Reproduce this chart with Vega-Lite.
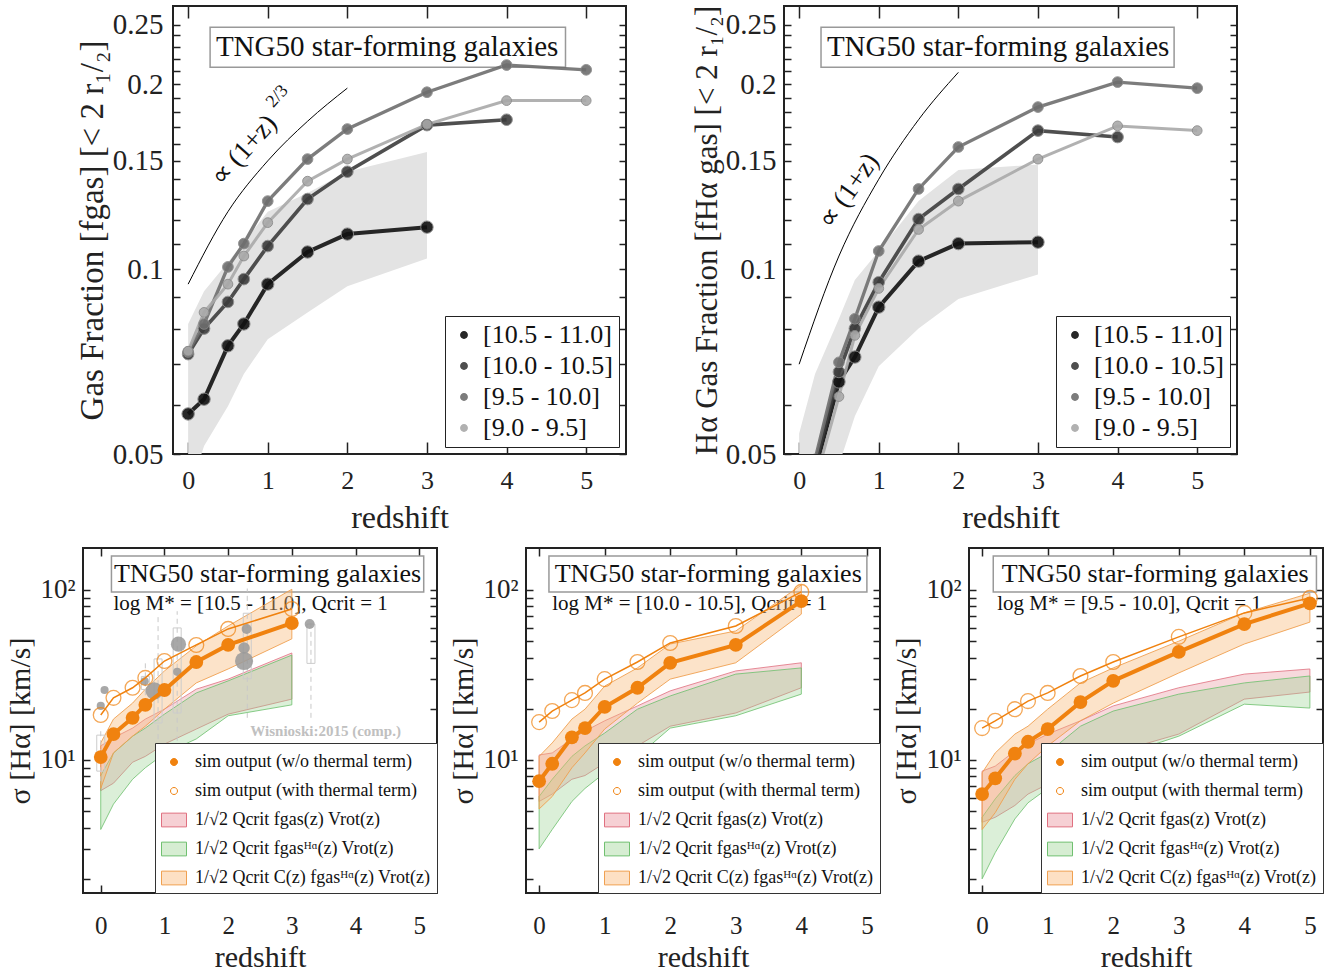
{
"$schema": "https://vega.github.io/schema/vega-lite/v6.json",
"padding": {"left": -10, "top": 4, "right": 2, "bottom": 0},
"background": "white",
"config": {
  "font": "Liberation Serif",
  "view": {"stroke": "#222", "strokeWidth": 2},
  "axis": {"domain": false, "grid": false, "labelFont": "Liberation Serif", "titleFont": "Liberation Serif", "labelColor": "#222", "titleColor": "#222", "titleFontWeight": "normal", "tickColor": "#222", "tickWidth": 1.5, "labelOverlap": false, "labelFlush": false},
  "legend": {"labelFont": "Liberation Serif", "titleFont": "Liberation Serif"},
  "text": {"font": "Liberation Serif"}
},
"datasets": {
  "fg": [
    {"bin":"[10.5 - 11.0]","z":0,"f":0.0581},{"bin":"[10.5 - 11.0]","z":0.2,"f":0.0614},{"bin":"[10.5 - 11.0]","z":0.5,"f":0.075},{"bin":"[10.5 - 11.0]","z":0.7,"f":0.0814},{"bin":"[10.5 - 11.0]","z":1,"f":0.0945},{"bin":"[10.5 - 11.0]","z":1.5,"f":0.1066},{"bin":"[10.5 - 11.0]","z":2,"f":0.114},{"bin":"[10.5 - 11.0]","z":3,"f":0.117},
    {"bin":"[10.0 - 10.5]","z":0,"f":0.0727},{"bin":"[10.0 - 10.5]","z":0.2,"f":0.080},{"bin":"[10.0 - 10.5]","z":0.5,"f":0.0884},{"bin":"[10.0 - 10.5]","z":0.7,"f":0.0963},{"bin":"[10.0 - 10.5]","z":1,"f":0.109},{"bin":"[10.0 - 10.5]","z":1.5,"f":0.130},{"bin":"[10.0 - 10.5]","z":2,"f":0.144},{"bin":"[10.0 - 10.5]","z":3,"f":0.1715},{"bin":"[10.0 - 10.5]","z":4,"f":0.175},
    {"bin":"[9.5 - 10.0]","z":0,"f":0.0733},{"bin":"[9.5 - 10.0]","z":0.2,"f":0.0814},{"bin":"[9.5 - 10.0]","z":0.5,"f":0.1008},{"bin":"[9.5 - 10.0]","z":0.7,"f":0.110},{"bin":"[9.5 - 10.0]","z":1,"f":0.129},{"bin":"[9.5 - 10.0]","z":1.5,"f":0.151},{"bin":"[9.5 - 10.0]","z":2,"f":0.169},{"bin":"[9.5 - 10.0]","z":3,"f":0.194},{"bin":"[9.5 - 10.0]","z":4,"f":0.2148},{"bin":"[9.5 - 10.0]","z":5,"f":0.211},
    {"bin":"[9.0 - 9.5]","z":0,"f":0.0735},{"bin":"[9.0 - 9.5]","z":0.2,"f":0.085},{"bin":"[9.0 - 9.5]","z":0.5,"f":0.0945},{"bin":"[9.0 - 9.5]","z":0.7,"f":0.105},{"bin":"[9.0 - 9.5]","z":1,"f":0.119},{"bin":"[9.0 - 9.5]","z":1.5,"f":0.139},{"bin":"[9.0 - 9.5]","z":2,"f":0.151},{"bin":"[9.0 - 9.5]","z":3,"f":0.172},{"bin":"[9.0 - 9.5]","z":4,"f":0.188},{"bin":"[9.0 - 9.5]","z":5,"f":0.188}
  ],
  "fh": [
    {"bin":"[10.5 - 11.0]","z":0,"f":0.036},{"bin":"[10.5 - 11.0]","z":0.2,"f":0.047},{"bin":"[10.5 - 11.0]","z":0.5,"f":0.0655},{"bin":"[10.5 - 11.0]","z":0.7,"f":0.0719},{"bin":"[10.5 - 11.0]","z":1,"f":0.0867},{"bin":"[10.5 - 11.0]","z":1.5,"f":0.103},{"bin":"[10.5 - 11.0]","z":2,"f":0.110},{"bin":"[10.5 - 11.0]","z":3,"f":0.1106},
    {"bin":"[10.0 - 10.5]","z":0,"f":0.036},{"bin":"[10.0 - 10.5]","z":0.2,"f":0.048},{"bin":"[10.0 - 10.5]","z":0.5,"f":0.068},{"bin":"[10.0 - 10.5]","z":0.7,"f":0.080},{"bin":"[10.0 - 10.5]","z":1,"f":0.0952},{"bin":"[10.0 - 10.5]","z":1.5,"f":0.1206},{"bin":"[10.0 - 10.5]","z":2,"f":0.135},{"bin":"[10.0 - 10.5]","z":3,"f":0.168},{"bin":"[10.0 - 10.5]","z":4,"f":0.164},
    {"bin":"[9.5 - 10.0]","z":0,"f":0.037},{"bin":"[9.5 - 10.0]","z":0.2,"f":0.049},{"bin":"[9.5 - 10.0]","z":0.5,"f":0.0705},{"bin":"[9.5 - 10.0]","z":0.7,"f":0.083},{"bin":"[9.5 - 10.0]","z":1,"f":0.107},{"bin":"[9.5 - 10.0]","z":1.5,"f":0.135},{"bin":"[9.5 - 10.0]","z":2,"f":0.158},{"bin":"[9.5 - 10.0]","z":3,"f":0.1835},{"bin":"[9.5 - 10.0]","z":4,"f":0.2015},{"bin":"[9.5 - 10.0]","z":5,"f":0.197},
    {"bin":"[9.0 - 9.5]","z":0,"f":0.034},{"bin":"[9.0 - 9.5]","z":0.2,"f":0.045},{"bin":"[9.0 - 9.5]","z":0.5,"f":0.062},{"bin":"[9.0 - 9.5]","z":0.7,"f":0.078},{"bin":"[9.0 - 9.5]","z":1,"f":0.093},{"bin":"[9.0 - 9.5]","z":1.5,"f":0.116},{"bin":"[9.0 - 9.5]","z":2,"f":0.129},{"bin":"[9.0 - 9.5]","z":3,"f":0.151},{"bin":"[9.0 - 9.5]","z":4,"f":0.171},{"bin":"[9.0 - 9.5]","z":5,"f":0.168}
  ],
  "bandL": [
    {"z":0,"f2":0.043,"f":0.0814},{"z":0.2,"f2":0.0515,"f":0.092},{"z":0.5,"f2":0.0598,"f":0.1026},{"z":0.7,"f2":0.0675,"f":0.1106},{"z":1,"f2":0.0769,"f":0.124},{"z":1.5,"f2":0.085,"f":0.133},{"z":2,"f2":0.0938,"f":0.144},{"z":3,"f2":0.104,"f":0.155}
  ],
  "bandR": [
    {"z":0,"f2":0.03,"f":0.054},{"z":0.2,"f2":0.038,"f":0.0675},{"z":0.5,"f2":0.048,"f":0.083},{"z":0.7,"f2":0.0576,"f":0.096},{"z":1,"f2":0.0695,"f":0.107},{"z":1.5,"f2":0.080,"f":0.129},{"z":2,"f2":0.0894,"f":0.145},{"z":3,"f2":0.098,"f":0.148}
  ],
  "curveL": [{"z":0,"f":0.0945},{"z":0.5,"f":0.124},{"z":1,"f":0.150},{"z":1.5,"f":0.174},{"z":2,"f":0.197}],
  "curveR": [{"z":0,"f":0.070},{"z":0.5,"f":0.105},{"z":1,"f":0.140},{"z":1.5,"f":0.175},{"z":2,"f":0.209}],
  "sig": [
    {"p":1,"t":"a","z":0,"s":10.4},{"p":1,"t":"a","z":0.2,"s":14.2},{"p":1,"t":"a","z":0.5,"s":17.7},{"p":1,"t":"a","z":0.7,"s":21.1},{"p":1,"t":"a","z":1,"s":25.8},{"p":1,"t":"a","z":1.5,"s":37.7},{"p":1,"t":"a","z":2,"s":47.5},{"p":1,"t":"a","z":3,"s":63.9},
    {"p":1,"t":"b","z":0,"s":18.4},{"p":1,"t":"b","z":0.2,"s":23.2},{"p":1,"t":"b","z":0.5,"s":26.6},{"p":1,"t":"b","z":0.7,"s":30.4},{"p":1,"t":"b","z":1,"s":38.2},{"p":1,"t":"b","z":1.5,"s":47.5},{"p":1,"t":"b","z":2,"s":59},{"p":1,"t":"b","z":3,"s":77.3},
    {"p":2,"t":"a","z":0,"s":7.5},{"p":2,"t":"a","z":0.2,"s":9.5},{"p":2,"t":"a","z":0.5,"s":13.6},{"p":2,"t":"a","z":0.7,"s":15.4},{"p":2,"t":"a","z":1,"s":20.5},{"p":2,"t":"a","z":1.5,"s":26.6},{"p":2,"t":"a","z":2,"s":37.3},{"p":2,"t":"a","z":3,"s":47.5},{"p":2,"t":"a","z":4,"s":86},
    {"p":2,"t":"b","z":0,"s":16.7},{"p":2,"t":"b","z":0.2,"s":19.4},{"p":2,"t":"b","z":0.5,"s":22.5},{"p":2,"t":"b","z":0.7,"s":24.8},{"p":2,"t":"b","z":1,"s":29.9},{"p":2,"t":"b","z":1.5,"s":37.7},{"p":2,"t":"b","z":2,"s":48.8},{"p":2,"t":"b","z":3,"s":61.4},{"p":2,"t":"b","z":4,"s":97.4},
    {"p":3,"t":"a","z":0,"s":6.3},{"p":3,"t":"a","z":0.2,"s":7.8},{"p":3,"t":"a","z":0.5,"s":10.9},{"p":3,"t":"a","z":0.7,"s":12.8},{"p":3,"t":"a","z":1,"s":15.2},{"p":3,"t":"a","z":1.5,"s":21.9},{"p":3,"t":"a","z":2,"s":29.2},{"p":3,"t":"a","z":3,"s":43.2},{"p":3,"t":"a","z":4,"s":63},{"p":3,"t":"a","z":5,"s":83.5},
    {"p":3,"t":"b","z":0,"s":15.4},{"p":3,"t":"b","z":0.2,"s":17},{"p":3,"t":"b","z":0.5,"s":19.9},{"p":3,"t":"b","z":0.7,"s":22.2},{"p":3,"t":"b","z":1,"s":24.8},{"p":3,"t":"b","z":1.5,"s":31.2},{"p":3,"t":"b","z":2,"s":37.7},{"p":3,"t":"b","z":3,"s":53},{"p":3,"t":"b","z":4,"s":73.3},{"p":3,"t":"b","z":5,"s":89.8}
  ],
  "bands": [
    {"p":1,"t":"c","z":0,"s2":6.6,"s":12.1},{"p":1,"t":"c","z":0.2,"s2":7.3,"s":13.5},{"p":1,"t":"c","z":0.5,"s2":9.7,"s":15.4},{"p":1,"t":"c","z":0.7,"s2":10.5,"s":17.4},{"p":1,"t":"c","z":1,"s2":12.4,"s":19.9},{"p":1,"t":"c","z":1.5,"s2":15.2,"s":26.1},{"p":1,"t":"c","z":2,"s2":18.6,"s":29.9},{"p":1,"t":"c","z":3,"s2":22.8,"s":42.6},
    {"p":1,"t":"d","z":0,"s2":3.9,"s":8.1},{"p":1,"t":"d","z":0.2,"s2":5.5,"s":11.0},{"p":1,"t":"d","z":0.5,"s2":7.7,"s":13.8},{"p":1,"t":"d","z":0.7,"s2":9.0,"s":15.4},{"p":1,"t":"d","z":1,"s2":10.9,"s":18.6},{"p":1,"t":"d","z":1.5,"s2":13.3,"s":24.8},{"p":1,"t":"d","z":2,"s2":18.2,"s":29.2},{"p":1,"t":"d","z":3,"s2":21.1,"s":41.4},
    {"p":1,"t":"e","z":0,"s2":6.8,"s":12.6},{"p":1,"t":"e","z":0.2,"s2":11,"s":17.4},{"p":1,"t":"e","z":0.5,"s2":13.8,"s":21.6},{"p":1,"t":"e","z":0.7,"s2":15.8,"s":26.1},{"p":1,"t":"e","z":1,"s2":19.9,"s":33.4},{"p":1,"t":"e","z":1.5,"s2":28.4,"s":46.9},{"p":1,"t":"e","z":2,"s2":34.3,"s":61.4},{"p":1,"t":"e","z":3,"s2":51.6,"s":101},
    {"p":2,"t":"c","z":0,"s2":5.7,"s":10.7},{"p":2,"t":"c","z":0.2,"s2":6.3,"s":11},{"p":2,"t":"c","z":0.5,"s2":7.7,"s":13.3},{"p":2,"t":"c","z":0.7,"s2":8.1,"s":14.8},{"p":2,"t":"c","z":1,"s2":9.6,"s":17},{"p":2,"t":"c","z":1.5,"s2":12.1,"s":20.8},{"p":2,"t":"c","z":2,"s2":15.8,"s":25.5},{"p":2,"t":"c","z":3,"s2":18.9,"s":33.4},{"p":2,"t":"c","z":4,"s2":26.6,"s":37.3},
    {"p":2,"t":"d","z":0,"s2":3.0,"s":6.1},{"p":2,"t":"d","z":0.2,"s2":3.9,"s":7.7},{"p":2,"t":"d","z":0.5,"s2":5.7,"s":10.5},{"p":2,"t":"d","z":0.7,"s2":6.8,"s":12.1},{"p":2,"t":"d","z":1,"s2":8.4,"s":14.4},{"p":2,"t":"d","z":1.5,"s2":10.5,"s":19.9},{"p":2,"t":"d","z":2,"s2":15.4,"s":23.8},{"p":2,"t":"d","z":3,"s2":18.2,"s":32},{"p":2,"t":"d","z":4,"s2":24.4,"s":34.8},
    {"p":2,"t":"e","z":0,"s2":5.15,"s":10.5},{"p":2,"t":"e","z":0.2,"s2":6.1,"s":12.6},{"p":2,"t":"e","z":0.5,"s2":9.0,"s":17.4},{"p":2,"t":"e","z":0.7,"s2":11,"s":19.9},{"p":2,"t":"e","z":1,"s2":15.2,"s":27.2},{"p":2,"t":"e","z":1.5,"s2":21.6,"s":34.8},{"p":2,"t":"e","z":2,"s2":29.9,"s":48.1},{"p":2,"t":"e","z":3,"s2":37.3,"s":57.4},{"p":2,"t":"e","z":4,"s2":72.1,"s":107},
    {"p":3,"t":"c","z":0,"s2":4.3,"s":8.6},{"p":3,"t":"c","z":0.2,"s2":4.6,"s":9.2},{"p":3,"t":"c","z":0.5,"s2":5.4,"s":11.3},{"p":3,"t":"c","z":0.7,"s2":6.3,"s":12.4},{"p":3,"t":"c","z":1,"s2":7.2,"s":14.2},{"p":3,"t":"c","z":1.5,"s2":9.2,"s":17},{"p":3,"t":"c","z":2,"s2":11,"s":20.8},{"p":3,"t":"c","z":3,"s2":14.2,"s":26.6},{"p":3,"t":"c","z":4,"s2":22.8,"s":32},{"p":3,"t":"c","z":5,"s2":25.1,"s":34.3},
    {"p":3,"t":"d","z":0,"s2":2.0,"s":4.6},{"p":3,"t":"d","z":0.2,"s2":2.85,"s":5.9},{"p":3,"t":"d","z":0.5,"s2":4.5,"s":8.1},{"p":3,"t":"d","z":0.7,"s2":5.6,"s":9.5},{"p":3,"t":"d","z":1,"s2":6.8,"s":11},{"p":3,"t":"d","z":1.5,"s2":9.0,"s":15.8},{"p":3,"t":"d","z":2,"s2":10.3,"s":19.4},{"p":3,"t":"d","z":3,"s2":13.8,"s":24.4},{"p":3,"t":"d","z":4,"s2":21.3,"s":28.4},{"p":3,"t":"d","z":5,"s2":20.2,"s":31.2},
    {"p":3,"t":"e","z":0,"s2":3.9,"s":8.4},{"p":3,"t":"e","z":0.2,"s2":4.9,"s":11},{"p":3,"t":"e","z":0.5,"s2":7.7,"s":14.2},{"p":3,"t":"e","z":0.7,"s2":9.5,"s":15.8},{"p":3,"t":"e","z":1,"s2":12.1,"s":19.9},{"p":3,"t":"e","z":1.5,"s2":17,"s":28.4},{"p":3,"t":"e","z":2,"s2":21.6,"s":34.8},{"p":3,"t":"e","z":3,"s2":32.5,"s":50},{"p":3,"t":"e","z":4,"s2":48.1,"s":73.3},{"p":3,"t":"e","z":5,"s2":64.7,"s":95.7}
  ],
  "wis": [
    {"z":0.06,"s":25.8,"n":2},{"z":0.0,"s":20.8,"n":2},{"z":0.69,"s":29,"n":2},{"z":0.84,"s":25.5,"n":9},{"z":1.22,"s":48,"n":7},{"z":1.2,"s":33,"n":2},{"z":2.29,"s":59,"n":3},{"z":2.25,"s":45.6,"n":4},{"z":2.25,"s":38.2,"n":10},{"z":3.28,"s":63,"n":3}
  ],
  "wbox": [
    {"z":0.0,"lo":7.5,"q1":8.6,"q3":14,"hi":15.5},{"z":0.7,"lo":24,"q1":26,"q3":31,"hi":39},{"z":0.9,"lo":9.2,"q1":16.5,"q3":39.3,"hi":73},{"z":1.2,"lo":9,"q1":18.9,"q3":59.8,"hi":75},{"z":2.3,"lo":17.7,"q1":30,"q3":73,"hi":102},{"z":3.3,"lo":17.7,"q1":37,"q3":63,"hi":65}
  ]
},
"vconcat": [
  {
    "spacing": 62,
    "resolve": {"scale": {"color": "independent", "size": "independent", "strokeWidth": "independent"}},
    "hconcat": [
      {"width": 19, "height": 448, "view": {"stroke": "white", "fill": "white"}, "data": {"values": [{}]}, "mark": {"type": "point", "opacity": 0}},
      {
        "width": 453, "height": 448,
        "resolve": {"axis": {"x": "independent", "y": "independent"}},
        "layer": [
          {"data": {"name": "bandL"}, "mark": {"type": "area", "color": "#e3e3e3", "clip": true},
           "encoding": {
             "x": {"field": "z", "type": "quantitative", "scale": {"domain": [-0.19, 5.5], "nice": false, "zero": false},
                   "axis": {"title": "redshift", "values": [0,1,2,3,4,5], "format": "d", "tickSize": -12, "labelFontSize": 26, "titleFontSize": 32, "labelPadding": 25, "titlePadding": 9}},
             "y": {"field": "f", "type": "quantitative", "scale": {"type": "log", "domain": [0.05, 0.268], "nice": false},
                   "axis": {"title": "Gas Fraction [fgas] [< 2 r₁/₂]", "values": [0.05,0.06,0.07,0.08,0.09,0.1,0.11,0.12,0.13,0.14,0.15,0.16,0.17,0.18,0.19,0.2,0.21,0.22,0.23,0.24,0.25],
                            "labelExpr": "indexof([0.05,0.1,0.15,0.2,0.25], datum.value) >= 0 ? format(datum.value, '.2~f') : ''", "tickSize": -7, "labelFontSize": 29, "titleFontSize": 33, "labelPadding": 17, "titlePadding": 3}},
             "y2": {"field": "f2"}}},
          {"data": {"values": [{}]}, "mark": {"type": "point", "opacity": 0},
           "encoding": {"x": {"datum": 1, "axis": {"orient": "top", "values": [0,1,2,3,4,5], "labels": false, "title": null, "tickSize": -12}},
                        "y": {"datum": 0.1, "axis": {"orient": "right", "values": [0.05,0.06,0.07,0.08,0.09,0.1,0.11,0.12,0.13,0.14,0.15,0.16,0.17,0.18,0.19,0.2,0.21,0.22,0.23,0.24,0.25], "labels": false, "title": null, "tickSize": -7}}}},
          {"data": {"name": "curveL"}, "mark": {"type": "line", "color": "#000", "strokeWidth": 1, "clip": true, "interpolate": "monotone"},
           "encoding": {"x": {"field": "z", "type": "quantitative", "axis": null}, "y": {"field": "f", "type": "quantitative", "axis": null}}},
          {"data": {"values": [{}]}, "mark": {"type": "rect", "fill": "white", "stroke": "#999", "strokeWidth": 1.5}, "encoding": {"x": {"datum": 0.276, "axis": null}, "x2": {"datum": 4.74}, "y": {"datum": 0.2131, "axis": null}, "y2": {"datum": 0.2476}}},
          {"data": {"values": [{}]}, "mark": {"type": "text", "text": "TNG50 star-forming galaxies", "fontSize": 29, "color": "#111"}, "encoding": {"x": {"datum": 2.5, "axis": null}, "y": {"datum": 0.2297, "axis": null}}},
          {"data": {"values": [{}]}, "mark": {"type": "text", "text": "∝ (1+z)", "fontSize": 27, "angle": -48, "color": "#111"}, "encoding": {"x": {"datum": 0.7, "axis": null}, "y": {"datum": 0.156, "axis": null}}},
          {"data": {"values": [{}]}, "mark": {"type": "text", "text": "2/3", "fontSize": 18, "angle": -48, "color": "#111"}, "encoding": {"x": {"datum": 1.12, "axis": null}, "y": {"datum": 0.191, "axis": null}}},
          {"data": {"name": "fg"}, "mark": {"type": "line", "clip": true, "opacity": 0.9},
           "encoding": {"x": {"field": "z", "type": "quantitative", "axis": null}, "y": {"field": "f", "type": "quantitative", "axis": null},
                        "color": {"field": "bin", "type": "nominal", "scale": {"domain": ["[10.5 - 11.0]","[10.0 - 10.5]","[9.5 - 10.0]","[9.0 - 9.5]"], "range": ["#111111","#3c3c3c","#6e6e6e","#a9a9a9"]},
                                  "legend": {"title": null, "orient": "bottom-right", "offset": 7, "strokeColor": "#222", "fillColor": "white", "padding": 6, "labelFontSize": 26, "labelColor": "#111", "symbolSize": 40, "symbolType": "circle", "rowPadding": 5, "labelOffset": 6, "labelLimit": 400}},
                        "strokeWidth": {"field": "bin", "type": "ordinal", "scale": {"domain": ["[9.0 - 9.5]","[9.5 - 10.0]","[10.0 - 10.5]","[10.5 - 11.0]"], "range": [3,4,5,7]}, "legend": null}}},
          {"data": {"name": "fg"}, "mark": {"type": "point", "filled": true, "opacity": 0.9, "stroke": "#8a8a8a", "strokeWidth": 1, "clip": true},
           "encoding": {"x": {"field": "z", "type": "quantitative", "axis": null}, "y": {"field": "f", "type": "quantitative", "axis": null},
                        "color": {"field": "bin", "type": "nominal", "scale": {"domain": ["[10.5 - 11.0]","[10.0 - 10.5]","[9.5 - 10.0]","[9.0 - 9.5]"], "range": ["#111111","#3c3c3c","#6e6e6e","#a9a9a9"]},
                                  "legend": {"title": null, "orient": "bottom-right", "offset": 7, "strokeColor": "#222", "fillColor": "white", "padding": 6, "labelFontSize": 26, "labelColor": "#111", "symbolSize": 40, "symbolType": "circle", "rowPadding": 5, "labelOffset": 6, "labelLimit": 400}},
                        "size": {"field": "bin", "type": "ordinal", "scale": {"domain": ["[9.0 - 9.5]","[9.5 - 10.0]","[10.0 - 10.5]","[10.5 - 11.0]"], "range": [95,154,227,314]}, "legend": null}}}
        ]
      },
      {
        "width": 453, "height": 448,
        "resolve": {"axis": {"x": "independent", "y": "independent"}},
        "layer": [
          {"data": {"name": "bandR"}, "mark": {"type": "area", "color": "#e3e3e3", "clip": true},
           "encoding": {
             "x": {"field": "z", "type": "quantitative", "scale": {"domain": [-0.19, 5.5], "nice": false, "zero": false},
                   "axis": {"title": "redshift", "values": [0,1,2,3,4,5], "format": "d", "tickSize": -12, "labelFontSize": 26, "titleFontSize": 32, "labelPadding": 25, "titlePadding": 9}},
             "y": {"field": "f", "type": "quantitative", "scale": {"type": "log", "domain": [0.05, 0.268], "nice": false},
                   "axis": {"title": "Hα Gas Fraction [fHα gas] [< 2 r₁/₂]", "values": [0.05,0.06,0.07,0.08,0.09,0.1,0.11,0.12,0.13,0.14,0.15,0.16,0.17,0.18,0.19,0.2,0.21,0.22,0.23,0.24,0.25],
                            "labelExpr": "indexof([0.05,0.1,0.15,0.2,0.25], datum.value) >= 0 ? format(datum.value, '.2~f') : ''", "tickSize": -7, "labelFontSize": 29, "titleFontSize": 31, "labelPadding": 15, "titlePadding": 2}},
             "y2": {"field": "f2"}}},
          {"data": {"values": [{}]}, "mark": {"type": "point", "opacity": 0},
           "encoding": {"x": {"datum": 1, "axis": {"orient": "top", "values": [0,1,2,3,4,5], "labels": false, "title": null, "tickSize": -12}},
                        "y": {"datum": 0.1, "axis": {"orient": "right", "values": [0.05,0.06,0.07,0.08,0.09,0.1,0.11,0.12,0.13,0.14,0.15,0.16,0.17,0.18,0.19,0.2,0.21,0.22,0.23,0.24,0.25], "labels": false, "title": null, "tickSize": -7}}}},
          {"data": {"name": "curveR"}, "mark": {"type": "line", "color": "#000", "strokeWidth": 1, "clip": true, "interpolate": "monotone"},
           "encoding": {"x": {"field": "z", "type": "quantitative", "axis": null}, "y": {"field": "f", "type": "quantitative", "axis": null}}},
          {"data": {"values": [{}]}, "mark": {"type": "rect", "fill": "white", "stroke": "#999", "strokeWidth": 1.5}, "encoding": {"x": {"datum": 0.275, "axis": null}, "x2": {"datum": 4.71}, "y": {"datum": 0.2131, "axis": null}, "y2": {"datum": 0.2476}}},
          {"data": {"values": [{}]}, "mark": {"type": "text", "text": "TNG50 star-forming galaxies", "fontSize": 29, "color": "#111"}, "encoding": {"x": {"datum": 2.5, "axis": null}, "y": {"datum": 0.2297, "axis": null}}},
          {"data": {"values": [{}]}, "mark": {"type": "text", "text": "∝ (1+z)", "fontSize": 27, "angle": -55, "color": "#111"}, "encoding": {"x": {"datum": 0.625, "axis": null}, "y": {"datum": 0.134, "axis": null}}},
          {"data": {"name": "fh"}, "mark": {"type": "line", "clip": true, "opacity": 0.9},
           "encoding": {"x": {"field": "z", "type": "quantitative", "axis": null}, "y": {"field": "f", "type": "quantitative", "axis": null},
                        "color": {"field": "bin", "type": "nominal", "scale": {"domain": ["[10.5 - 11.0]","[10.0 - 10.5]","[9.5 - 10.0]","[9.0 - 9.5]"], "range": ["#111111","#3c3c3c","#6e6e6e","#a9a9a9"]},
                                  "legend": {"title": null, "orient": "bottom-right", "offset": 7, "strokeColor": "#222", "fillColor": "white", "padding": 6, "labelFontSize": 26, "labelColor": "#111", "symbolSize": 40, "symbolType": "circle", "rowPadding": 5, "labelOffset": 6, "labelLimit": 400}},
                        "strokeWidth": {"field": "bin", "type": "ordinal", "scale": {"domain": ["[9.0 - 9.5]","[9.5 - 10.0]","[10.0 - 10.5]","[10.5 - 11.0]"], "range": [3,4,5,7]}, "legend": null}}},
          {"data": {"name": "fh"}, "mark": {"type": "point", "filled": true, "opacity": 0.9, "stroke": "#8a8a8a", "strokeWidth": 1, "clip": true},
           "encoding": {"x": {"field": "z", "type": "quantitative", "axis": null}, "y": {"field": "f", "type": "quantitative", "axis": null},
                        "color": {"field": "bin", "type": "nominal", "scale": {"domain": ["[10.5 - 11.0]","[10.0 - 10.5]","[9.5 - 10.0]","[9.0 - 9.5]"], "range": ["#111111","#3c3c3c","#6e6e6e","#a9a9a9"]},
                                  "legend": {"title": null, "orient": "bottom-right", "offset": 7, "strokeColor": "#222", "fillColor": "white", "padding": 6, "labelFontSize": 26, "labelColor": "#111", "symbolSize": 40, "symbolType": "circle", "rowPadding": 5, "labelOffset": 6, "labelLimit": 400}},
                        "size": {"field": "bin", "type": "ordinal", "scale": {"domain": ["[9.0 - 9.5]","[9.5 - 10.0]","[10.0 - 10.5]","[10.5 - 11.0]"], "range": [95,154,227,314]}, "legend": null}}}
        ]
      }
    ]
  },
  {
    "bounds": "flush",
    "spacing": 89,
    "resolve": {"scale": {"fill": "independent", "stroke": "independent", "shape": "independent", "size": "independent"}},
    "hconcat": [
      {"width": 1, "height": 345, "view": {"stroke": "white", "fill": "white"}, "data": {"values": [{}]}, "mark": {"type": "point", "opacity": 0}},
      {
        "width": 354, "height": 345,
        "resolve": {"axis": {"x": "independent", "y": "independent"}},
        "layer": [
          {"data": {"values": [{}]}, "mark": {"type": "rect", "fill": "white", "stroke": "#999", "strokeWidth": 1.5},
           "encoding": {
             "x": {"datum": 0.168, "scale": {"domain": [-0.2, 5.2], "nice": false, "zero": false},
                   "axis": {"title": "redshift", "values": [0,1,2,3,4,5], "format": "d", "tickSize": -8, "labelFontSize": 25, "titleFontSize": 30, "labelPadding": 28, "titlePadding": 4}},
             "x2": {"datum": 5.07},
             "y": {"datum": 97.3, "scale": {"type": "log", "domain": [1.65, 176.6], "nice": false},
                   "axis": {"title": "σ [Hα] [km/s]", "values": [2,3,4,5,6,7,8,9,10,20,30,40,50,60,70,80,90,100], "labelExpr": "datum.value == 10 ? '10¹' : datum.value == 100 ? '10²' : ''",
                            "tickSize": -7, "labelFontSize": 27, "titleFontSize": 30, "labelPadding": 15, "titlePadding": 4}},
             "y2": {"datum": 158.5}}},
          {"data": {"values": [{}]}, "mark": {"type": "point", "opacity": 0},
           "encoding": {"x": {"datum": 1, "axis": {"orient": "top", "values": [0,1,2,3,4,5], "labels": false, "title": null, "tickSize": -8}},
                        "y": {"datum": 10, "axis": {"orient": "right", "values": [2,3,4,5,6,7,8,9,10,20,30,40,50,60,70,80,90,100], "labels": false, "title": null, "tickSize": -7}}}},
          {"data": {"values": [{}]}, "mark": {"type": "text", "text": "TNG50 star-forming galaxies", "fontSize": 26, "color": "#111"}, "encoding": {"x": {"datum": 2.62, "axis": null}, "y": {"datum": 124, "axis": null}}},
          {"data": {"values": [{}]}, "mark": {"type": "text", "text": "log M* = [10.5 - 11.0], Qcrit = 1", "fontSize": 21, "align": "left", "color": "#111"}, "encoding": {"x": {"datum": 0.2, "axis": null}, "y": {"datum": 82.8, "axis": null}}},
          {"data": {"name": "bands"}, "transform": [{"filter": "datum.p == 1 && datum.t == 'c'"}], "mark": {"type": "area", "fill": "#e8919b", "fillOpacity": 0.35, "stroke": "#e07080", "strokeWidth": 1, "strokeOpacity": 0.8, "clip": true},
           "encoding": {"x": {"field": "z", "type": "quantitative", "axis": null}, "y": {"field": "s", "type": "quantitative", "axis": null}, "y2": {"field": "s2"}}},
          {"data": {"name": "bands"}, "transform": [{"filter": "datum.p == 1 && datum.t == 'd'"}], "mark": {"type": "area", "fill": "#98d08f", "fillOpacity": 0.35, "stroke": "#6cbf6c", "strokeWidth": 1, "strokeOpacity": 0.8, "clip": true},
           "encoding": {"x": {"field": "z", "type": "quantitative", "axis": null}, "y": {"field": "s", "type": "quantitative", "axis": null}, "y2": {"field": "s2"}}},
          {"data": {"name": "bands"}, "transform": [{"filter": "datum.p == 1 && datum.t == 'e'"}], "mark": {"type": "area", "fill": "#f8b878", "fillOpacity": 0.4, "stroke": "#f0a050", "strokeWidth": 1, "strokeOpacity": 0.9, "clip": true},
           "encoding": {"x": {"field": "z", "type": "quantitative", "axis": null}, "y": {"field": "s", "type": "quantitative", "axis": null}, "y2": {"field": "s2"}}},
          {"data": {"name": "wbox"}, "mark": {"type": "rule", "color": "#c8c8c8", "strokeDash": [5, 4], "strokeWidth": 1},
           "encoding": {"x": {"field": "z", "type": "quantitative", "axis": null}, "y": {"field": "lo", "type": "quantitative", "axis": null}, "y2": {"field": "hi"}}},
          {"data": {"name": "wbox"}, "mark": {"type": "bar", "fill": "transparent", "stroke": "#cccccc", "strokeWidth": 1, "size": 8},
           "encoding": {"x": {"field": "z", "type": "quantitative", "axis": null}, "y": {"field": "q1", "type": "quantitative", "axis": null}, "y2": {"field": "q3"}}},
          {"data": {"name": "wis"}, "mark": {"type": "point", "filled": true, "color": "#999999", "opacity": 0.85},
           "encoding": {"x": {"field": "z", "type": "quantitative", "axis": null}, "y": {"field": "s", "type": "quantitative", "axis": null}, "size": {"field": "n", "type": "quantitative", "scale": {"domain": [0, 10], "range": [0, 330]}, "legend": null}}},
          {"data": {"values": [{}]}, "mark": {"type": "text", "text": "Wisnioski:2015 (comp.)", "fontSize": 15, "fontWeight": "bold", "color": "#c0c0c0"}, "encoding": {"x": {"datum": 3.53, "axis": null}, "y": {"datum": 14.8, "axis": null}}},
          {"data": {"name": "sig"}, "transform": [{"filter": "datum.p == 1 && datum.t == 'b'"}], "mark": {"type": "line", "color": "#f0820f", "strokeWidth": 1.5},
           "encoding": {"x": {"field": "z", "type": "quantitative", "axis": null}, "y": {"field": "s", "type": "quantitative", "axis": null}}},
          {"data": {"name": "sig"}, "transform": [{"filter": "datum.p == 1 && datum.t == 'a'"}], "mark": {"type": "line", "color": "#f0820f", "strokeWidth": 4},
           "encoding": {"x": {"field": "z", "type": "quantitative", "axis": null}, "y": {"field": "s", "type": "quantitative", "axis": null}}},
          {"data": {"name": "sig"}, "transform": [{"filter": "datum.p == 1 && datum.t == 'a'"}], "mark": {"type": "point", "filled": true, "strokeWidth": 1, "opacity": 1},
           "encoding": {"x": {"field": "z", "type": "quantitative", "axis": null}, "y": {"field": "s", "type": "quantitative", "axis": null},
             "fill": {"field": "t", "type": "nominal", "scale": {"domain": ["a","b","c","d","e"], "range": ["#f0820f","transparent","#f6d0d4","#d6edd2","#fde0c4"]},
               "legend": {"title": null, "orient": "bottom-right", "offset": 0, "strokeColor": "#333", "fillColor": "white", "padding": 6, "labelFontSize": 18, "labelColor": "#111", "symbolSize": 625, "symbolStrokeWidth": 1, "rowPadding": 7, "labelOffset": 8, "labelLimit": 500,
                 "labelExpr": "datum.value == 'a' ? 'sim output (w/o thermal term)' : datum.value == 'b' ? 'sim output (with thermal term)' : datum.value == 'c' ? '1/√2 Qcrit fgas(z) Vrot(z)' : datum.value == 'd' ? '1/√2 Qcrit fgasᴴᵅ(z) Vrot(z)' : '1/√2 Qcrit C(z) fgasᴴᵅ(z) Vrot(z)'"}},
             "stroke": {"field": "t", "type": "nominal", "scale": {"domain": ["a","b","c","d","e"], "range": ["#f0820f","#f0820f","#e07080","#70c070","#f0a050"]},
               "legend": {"title": null, "orient": "bottom-right", "offset": 0, "strokeColor": "#333", "fillColor": "white", "padding": 6, "labelFontSize": 18, "labelColor": "#111", "symbolSize": 625, "symbolStrokeWidth": 1, "rowPadding": 7, "labelOffset": 8, "labelLimit": 500,
                 "labelExpr": "datum.value == 'a' ? 'sim output (w/o thermal term)' : datum.value == 'b' ? 'sim output (with thermal term)' : datum.value == 'c' ? '1/√2 Qcrit fgas(z) Vrot(z)' : datum.value == 'd' ? '1/√2 Qcrit fgasᴴᵅ(z) Vrot(z)' : '1/√2 Qcrit C(z) fgasᴴᵅ(z) Vrot(z)'"}},
             "shape": {"field": "t", "type": "nominal", "scale": {"domain": ["a","b","c","d","e"], "range": ["M-0.28,0a0.28,0.28 0 1,0 0.56,0a0.28,0.28 0 1,0 -0.56,0Z","M-0.28,0a0.28,0.28 0 1,0 0.56,0a0.28,0.28 0 1,0 -0.56,0Z","M-1,-0.55H1V0.55H-1Z","M-1,-0.55H1V0.55H-1Z","M-1,-0.55H1V0.55H-1Z"]},
               "legend": {"title": null, "orient": "bottom-right", "offset": 0, "strokeColor": "#333", "fillColor": "white", "padding": 6, "labelFontSize": 18, "labelColor": "#111", "symbolSize": 625, "symbolStrokeWidth": 1, "rowPadding": 7, "labelOffset": 8, "labelLimit": 500,
                 "labelExpr": "datum.value == 'a' ? 'sim output (w/o thermal term)' : datum.value == 'b' ? 'sim output (with thermal term)' : datum.value == 'c' ? '1/√2 Qcrit fgas(z) Vrot(z)' : datum.value == 'd' ? '1/√2 Qcrit fgasᴴᵅ(z) Vrot(z)' : '1/√2 Qcrit C(z) fgasᴴᵅ(z) Vrot(z)'"}}}},
          {"data": {"name": "sig"}, "transform": [{"filter": "datum.p == 1 && datum.t == 'b'"}], "mark": {"type": "point", "filled": false, "color": "#f0820f", "size": 220, "strokeWidth": 1.3},
           "encoding": {"x": {"field": "z", "type": "quantitative", "axis": null}, "y": {"field": "s", "type": "quantitative", "axis": null}}},
          {"data": {"name": "sig"}, "transform": [{"filter": "datum.p == 1 && datum.t == 'a'"}], "mark": {"type": "point", "filled": true, "color": "#f0820f", "size": 190, "opacity": 1},
           "encoding": {"x": {"field": "z", "type": "quantitative", "axis": null}, "y": {"field": "s", "type": "quantitative", "axis": null}}}
        ]
      },
      {
        "width": 354, "height": 345,
        "resolve": {"axis": {"x": "independent", "y": "independent"}},
        "layer": [
          {"data": {"values": [{}]}, "mark": {"type": "rect", "fill": "white", "stroke": "#999", "strokeWidth": 1.5},
           "encoding": {
             "x": {"datum": 0.15, "scale": {"domain": [-0.2, 5.2], "nice": false, "zero": false},
                   "axis": {"title": "redshift", "values": [0,1,2,3,4,5], "format": "d", "tickSize": -8, "labelFontSize": 25, "titleFontSize": 30, "labelPadding": 28, "titlePadding": 4}},
             "x2": {"datum": 5.0},
             "y": {"datum": 97.3, "scale": {"type": "log", "domain": [1.65, 176.6], "nice": false},
                   "axis": {"title": "σ [Hα] [km/s]", "values": [2,3,4,5,6,7,8,9,10,20,30,40,50,60,70,80,90,100], "labelExpr": "datum.value == 10 ? '10¹' : datum.value == 100 ? '10²' : ''",
                            "tickSize": -7, "labelFontSize": 27, "titleFontSize": 30, "labelPadding": 15, "titlePadding": 4}},
             "y2": {"datum": 158.5}}},
          {"data": {"values": [{}]}, "mark": {"type": "point", "opacity": 0},
           "encoding": {"x": {"datum": 1, "axis": {"orient": "top", "values": [0,1,2,3,4,5], "labels": false, "title": null, "tickSize": -8}},
                        "y": {"datum": 10, "axis": {"orient": "right", "values": [2,3,4,5,6,7,8,9,10,20,30,40,50,60,70,80,90,100], "labels": false, "title": null, "tickSize": -7}}}},
          {"data": {"values": [{}]}, "mark": {"type": "text", "text": "TNG50 star-forming galaxies", "fontSize": 26, "color": "#111"}, "encoding": {"x": {"datum": 2.58, "axis": null}, "y": {"datum": 124, "axis": null}}},
          {"data": {"values": [{}]}, "mark": {"type": "text", "text": "log M* = [10.0 - 10.5], Qcrit = 1", "fontSize": 21, "align": "left", "color": "#111"}, "encoding": {"x": {"datum": 0.2, "axis": null}, "y": {"datum": 82.8, "axis": null}}},
          {"data": {"name": "bands"}, "transform": [{"filter": "datum.p == 2 && datum.t == 'c'"}], "mark": {"type": "area", "fill": "#e8919b", "fillOpacity": 0.35, "stroke": "#e07080", "strokeWidth": 1, "strokeOpacity": 0.8, "clip": true},
           "encoding": {"x": {"field": "z", "type": "quantitative", "axis": null}, "y": {"field": "s", "type": "quantitative", "axis": null}, "y2": {"field": "s2"}}},
          {"data": {"name": "bands"}, "transform": [{"filter": "datum.p == 2 && datum.t == 'd'"}], "mark": {"type": "area", "fill": "#98d08f", "fillOpacity": 0.35, "stroke": "#6cbf6c", "strokeWidth": 1, "strokeOpacity": 0.8, "clip": true},
           "encoding": {"x": {"field": "z", "type": "quantitative", "axis": null}, "y": {"field": "s", "type": "quantitative", "axis": null}, "y2": {"field": "s2"}}},
          {"data": {"name": "bands"}, "transform": [{"filter": "datum.p == 2 && datum.t == 'e'"}], "mark": {"type": "area", "fill": "#f8b878", "fillOpacity": 0.4, "stroke": "#f0a050", "strokeWidth": 1, "strokeOpacity": 0.9, "clip": true},
           "encoding": {"x": {"field": "z", "type": "quantitative", "axis": null}, "y": {"field": "s", "type": "quantitative", "axis": null}, "y2": {"field": "s2"}}},
          {"data": {"name": "sig"}, "transform": [{"filter": "datum.p == 2 && datum.t == 'b'"}], "mark": {"type": "line", "color": "#f0820f", "strokeWidth": 1.5},
           "encoding": {"x": {"field": "z", "type": "quantitative", "axis": null}, "y": {"field": "s", "type": "quantitative", "axis": null}}},
          {"data": {"name": "sig"}, "transform": [{"filter": "datum.p == 2 && datum.t == 'a'"}], "mark": {"type": "line", "color": "#f0820f", "strokeWidth": 4},
           "encoding": {"x": {"field": "z", "type": "quantitative", "axis": null}, "y": {"field": "s", "type": "quantitative", "axis": null}}},
          {"data": {"name": "sig"}, "transform": [{"filter": "datum.p == 2 && datum.t == 'a'"}], "mark": {"type": "point", "filled": true, "strokeWidth": 1, "opacity": 1},
           "encoding": {"x": {"field": "z", "type": "quantitative", "axis": null}, "y": {"field": "s", "type": "quantitative", "axis": null},
             "fill": {"field": "t", "type": "nominal", "scale": {"domain": ["a","b","c","d","e"], "range": ["#f0820f","transparent","#f6d0d4","#d6edd2","#fde0c4"]},
               "legend": {"title": null, "orient": "bottom-right", "offset": 0, "strokeColor": "#333", "fillColor": "white", "padding": 6, "labelFontSize": 18, "labelColor": "#111", "symbolSize": 625, "symbolStrokeWidth": 1, "rowPadding": 7, "labelOffset": 8, "labelLimit": 500,
                 "labelExpr": "datum.value == 'a' ? 'sim output (w/o thermal term)' : datum.value == 'b' ? 'sim output (with thermal term)' : datum.value == 'c' ? '1/√2 Qcrit fgas(z) Vrot(z)' : datum.value == 'd' ? '1/√2 Qcrit fgasᴴᵅ(z) Vrot(z)' : '1/√2 Qcrit C(z) fgasᴴᵅ(z) Vrot(z)'"}},
             "stroke": {"field": "t", "type": "nominal", "scale": {"domain": ["a","b","c","d","e"], "range": ["#f0820f","#f0820f","#e07080","#70c070","#f0a050"]},
               "legend": {"title": null, "orient": "bottom-right", "offset": 0, "strokeColor": "#333", "fillColor": "white", "padding": 6, "labelFontSize": 18, "labelColor": "#111", "symbolSize": 625, "symbolStrokeWidth": 1, "rowPadding": 7, "labelOffset": 8, "labelLimit": 500,
                 "labelExpr": "datum.value == 'a' ? 'sim output (w/o thermal term)' : datum.value == 'b' ? 'sim output (with thermal term)' : datum.value == 'c' ? '1/√2 Qcrit fgas(z) Vrot(z)' : datum.value == 'd' ? '1/√2 Qcrit fgasᴴᵅ(z) Vrot(z)' : '1/√2 Qcrit C(z) fgasᴴᵅ(z) Vrot(z)'"}},
             "shape": {"field": "t", "type": "nominal", "scale": {"domain": ["a","b","c","d","e"], "range": ["M-0.28,0a0.28,0.28 0 1,0 0.56,0a0.28,0.28 0 1,0 -0.56,0Z","M-0.28,0a0.28,0.28 0 1,0 0.56,0a0.28,0.28 0 1,0 -0.56,0Z","M-1,-0.55H1V0.55H-1Z","M-1,-0.55H1V0.55H-1Z","M-1,-0.55H1V0.55H-1Z"]},
               "legend": {"title": null, "orient": "bottom-right", "offset": 0, "strokeColor": "#333", "fillColor": "white", "padding": 6, "labelFontSize": 18, "labelColor": "#111", "symbolSize": 625, "symbolStrokeWidth": 1, "rowPadding": 7, "labelOffset": 8, "labelLimit": 500,
                 "labelExpr": "datum.value == 'a' ? 'sim output (w/o thermal term)' : datum.value == 'b' ? 'sim output (with thermal term)' : datum.value == 'c' ? '1/√2 Qcrit fgas(z) Vrot(z)' : datum.value == 'd' ? '1/√2 Qcrit fgasᴴᵅ(z) Vrot(z)' : '1/√2 Qcrit C(z) fgasᴴᵅ(z) Vrot(z)'"}}}},
          {"data": {"name": "sig"}, "transform": [{"filter": "datum.p == 2 && datum.t == 'b'"}], "mark": {"type": "point", "filled": false, "color": "#f0820f", "size": 220, "strokeWidth": 1.3},
           "encoding": {"x": {"field": "z", "type": "quantitative", "axis": null}, "y": {"field": "s", "type": "quantitative", "axis": null}}},
          {"data": {"name": "sig"}, "transform": [{"filter": "datum.p == 2 && datum.t == 'a'"}], "mark": {"type": "point", "filled": true, "color": "#f0820f", "size": 190, "opacity": 1},
           "encoding": {"x": {"field": "z", "type": "quantitative", "axis": null}, "y": {"field": "s", "type": "quantitative", "axis": null}}}
        ]
      },
      {
        "width": 354, "height": 345,
        "resolve": {"axis": {"x": "independent", "y": "independent"}},
        "layer": [
          {"data": {"values": [{}]}, "mark": {"type": "rect", "fill": "white", "stroke": "#999", "strokeWidth": 1.5},
           "encoding": {
             "x": {"datum": 0.17, "scale": {"domain": [-0.2, 5.2], "nice": false, "zero": false},
                   "axis": {"title": "redshift", "values": [0,1,2,3,4,5], "format": "d", "tickSize": -8, "labelFontSize": 25, "titleFontSize": 30, "labelPadding": 28, "titlePadding": 4}},
             "x2": {"datum": 5.1},
             "y": {"datum": 97.3, "scale": {"type": "log", "domain": [1.65, 176.6], "nice": false},
                   "axis": {"title": "σ [Hα] [km/s]", "values": [2,3,4,5,6,7,8,9,10,20,30,40,50,60,70,80,90,100], "labelExpr": "datum.value == 10 ? '10¹' : datum.value == 100 ? '10²' : ''",
                            "tickSize": -7, "labelFontSize": 27, "titleFontSize": 30, "labelPadding": 15, "titlePadding": 4}},
             "y2": {"datum": 158.5}}},
          {"data": {"values": [{}]}, "mark": {"type": "point", "opacity": 0},
           "encoding": {"x": {"datum": 1, "axis": {"orient": "top", "values": [0,1,2,3,4,5], "labels": false, "title": null, "tickSize": -8}},
                        "y": {"datum": 10, "axis": {"orient": "right", "values": [2,3,4,5,6,7,8,9,10,20,30,40,50,60,70,80,90,100], "labels": false, "title": null, "tickSize": -7}}}},
          {"data": {"values": [{}]}, "mark": {"type": "text", "text": "TNG50 star-forming galaxies", "fontSize": 26, "color": "#111"}, "encoding": {"x": {"datum": 2.64, "axis": null}, "y": {"datum": 124, "axis": null}}},
          {"data": {"values": [{}]}, "mark": {"type": "text", "text": "log M* = [9.5 - 10.0], Qcrit = 1", "fontSize": 21, "align": "left", "color": "#111"}, "encoding": {"x": {"datum": 0.23, "axis": null}, "y": {"datum": 82.8, "axis": null}}},
          {"data": {"name": "bands"}, "transform": [{"filter": "datum.p == 3 && datum.t == 'c'"}], "mark": {"type": "area", "fill": "#e8919b", "fillOpacity": 0.35, "stroke": "#e07080", "strokeWidth": 1, "strokeOpacity": 0.8, "clip": true},
           "encoding": {"x": {"field": "z", "type": "quantitative", "axis": null}, "y": {"field": "s", "type": "quantitative", "axis": null}, "y2": {"field": "s2"}}},
          {"data": {"name": "bands"}, "transform": [{"filter": "datum.p == 3 && datum.t == 'd'"}], "mark": {"type": "area", "fill": "#98d08f", "fillOpacity": 0.35, "stroke": "#6cbf6c", "strokeWidth": 1, "strokeOpacity": 0.8, "clip": true},
           "encoding": {"x": {"field": "z", "type": "quantitative", "axis": null}, "y": {"field": "s", "type": "quantitative", "axis": null}, "y2": {"field": "s2"}}},
          {"data": {"name": "bands"}, "transform": [{"filter": "datum.p == 3 && datum.t == 'e'"}], "mark": {"type": "area", "fill": "#f8b878", "fillOpacity": 0.4, "stroke": "#f0a050", "strokeWidth": 1, "strokeOpacity": 0.9, "clip": true},
           "encoding": {"x": {"field": "z", "type": "quantitative", "axis": null}, "y": {"field": "s", "type": "quantitative", "axis": null}, "y2": {"field": "s2"}}},
          {"data": {"name": "sig"}, "transform": [{"filter": "datum.p == 3 && datum.t == 'b'"}], "mark": {"type": "line", "color": "#f0820f", "strokeWidth": 1.5},
           "encoding": {"x": {"field": "z", "type": "quantitative", "axis": null}, "y": {"field": "s", "type": "quantitative", "axis": null}}},
          {"data": {"name": "sig"}, "transform": [{"filter": "datum.p == 3 && datum.t == 'a'"}], "mark": {"type": "line", "color": "#f0820f", "strokeWidth": 4},
           "encoding": {"x": {"field": "z", "type": "quantitative", "axis": null}, "y": {"field": "s", "type": "quantitative", "axis": null}}},
          {"data": {"name": "sig"}, "transform": [{"filter": "datum.p == 3 && datum.t == 'a'"}], "mark": {"type": "point", "filled": true, "strokeWidth": 1, "opacity": 1},
           "encoding": {"x": {"field": "z", "type": "quantitative", "axis": null}, "y": {"field": "s", "type": "quantitative", "axis": null},
             "fill": {"field": "t", "type": "nominal", "scale": {"domain": ["a","b","c","d","e"], "range": ["#f0820f","transparent","#f6d0d4","#d6edd2","#fde0c4"]},
               "legend": {"title": null, "orient": "bottom-right", "offset": 0, "strokeColor": "#333", "fillColor": "white", "padding": 6, "labelFontSize": 18, "labelColor": "#111", "symbolSize": 625, "symbolStrokeWidth": 1, "rowPadding": 7, "labelOffset": 8, "labelLimit": 500,
                 "labelExpr": "datum.value == 'a' ? 'sim output (w/o thermal term)' : datum.value == 'b' ? 'sim output (with thermal term)' : datum.value == 'c' ? '1/√2 Qcrit fgas(z) Vrot(z)' : datum.value == 'd' ? '1/√2 Qcrit fgasᴴᵅ(z) Vrot(z)' : '1/√2 Qcrit C(z) fgasᴴᵅ(z) Vrot(z)'"}},
             "stroke": {"field": "t", "type": "nominal", "scale": {"domain": ["a","b","c","d","e"], "range": ["#f0820f","#f0820f","#e07080","#70c070","#f0a050"]},
               "legend": {"title": null, "orient": "bottom-right", "offset": 0, "strokeColor": "#333", "fillColor": "white", "padding": 6, "labelFontSize": 18, "labelColor": "#111", "symbolSize": 625, "symbolStrokeWidth": 1, "rowPadding": 7, "labelOffset": 8, "labelLimit": 500,
                 "labelExpr": "datum.value == 'a' ? 'sim output (w/o thermal term)' : datum.value == 'b' ? 'sim output (with thermal term)' : datum.value == 'c' ? '1/√2 Qcrit fgas(z) Vrot(z)' : datum.value == 'd' ? '1/√2 Qcrit fgasᴴᵅ(z) Vrot(z)' : '1/√2 Qcrit C(z) fgasᴴᵅ(z) Vrot(z)'"}},
             "shape": {"field": "t", "type": "nominal", "scale": {"domain": ["a","b","c","d","e"], "range": ["M-0.28,0a0.28,0.28 0 1,0 0.56,0a0.28,0.28 0 1,0 -0.56,0Z","M-0.28,0a0.28,0.28 0 1,0 0.56,0a0.28,0.28 0 1,0 -0.56,0Z","M-1,-0.55H1V0.55H-1Z","M-1,-0.55H1V0.55H-1Z","M-1,-0.55H1V0.55H-1Z"]},
               "legend": {"title": null, "orient": "bottom-right", "offset": 0, "strokeColor": "#333", "fillColor": "white", "padding": 6, "labelFontSize": 18, "labelColor": "#111", "symbolSize": 625, "symbolStrokeWidth": 1, "rowPadding": 7, "labelOffset": 8, "labelLimit": 500,
                 "labelExpr": "datum.value == 'a' ? 'sim output (w/o thermal term)' : datum.value == 'b' ? 'sim output (with thermal term)' : datum.value == 'c' ? '1/√2 Qcrit fgas(z) Vrot(z)' : datum.value == 'd' ? '1/√2 Qcrit fgasᴴᵅ(z) Vrot(z)' : '1/√2 Qcrit C(z) fgasᴴᵅ(z) Vrot(z)'"}}}},
          {"data": {"name": "sig"}, "transform": [{"filter": "datum.p == 3 && datum.t == 'b'"}], "mark": {"type": "point", "filled": false, "color": "#f0820f", "size": 220, "strokeWidth": 1.3},
           "encoding": {"x": {"field": "z", "type": "quantitative", "axis": null}, "y": {"field": "s", "type": "quantitative", "axis": null}}},
          {"data": {"name": "sig"}, "transform": [{"filter": "datum.p == 3 && datum.t == 'a'"}], "mark": {"type": "point", "filled": true, "color": "#f0820f", "size": 190, "opacity": 1},
           "encoding": {"x": {"field": "z", "type": "quantitative", "axis": null}, "y": {"field": "s", "type": "quantitative", "axis": null}}}
        ]
      }
    ]
  }
],
"spacing": 12,
"resolve": {"scale": {"color": "independent", "size": "independent", "strokeWidth": "independent", "fill": "independent", "stroke": "independent", "shape": "independent"}}
}
